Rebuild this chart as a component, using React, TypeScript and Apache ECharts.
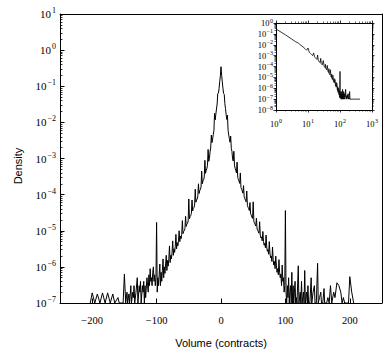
import React, { useEffect, useRef } from "react";
import * as echarts from "echarts";

// ---- main chart data: signed volume -> log10(density) ----
const coreStartVolume = -100; // core list covers every volume from -100 to 100
const coreLog10Density = [
  -4.77, -6.7, -6.3, -6.52, -6.22, -5.92, -6.52, -6.15, -6.4, -6.1,
  -5.78, -6.3, -6.0, -6.18, -5.92, -5.68, -6.1, -5.82, -5.98, -5.78,
  -5.42, -5.88, -5.68, -5.78, -5.6, -5.28, -5.68, -5.5, -5.6, -5.43,
  -5.1, -5.5, -5.33, -5.42, -5.28, -5.0, -5.3, -5.15, -5.22, -5.1,
  -4.72, -5.08, -5.02, -5.0, -4.94, -4.6, -4.88, -4.82, -4.8, -4.73,
  -4.12, -4.67, -4.61, -4.58, -4.52, -4.15, -4.45, -4.38, -4.36, -4.29,
  -3.85, -4.21, -4.15, -4.12, -4.05, -3.7, -3.97, -3.89, -3.86, -3.79,
  -3.35, -3.7, -3.62, -3.59, -3.51, -3.05, -3.41, -3.32, -3.28, -3.19,
  -2.75, -3.08, -3.0, -2.82, -2.71, -2.35, -2.56, -2.46, -2.34, -2.23,
  -1.75, -1.93, -1.77, -1.63, -1.49, -1.2, -1.19, -1.06, -0.87, -0.72,
  -0.46,
  -0.7, -0.88, -1.05, -1.2, -1.22, -1.48, -1.62, -1.78, -1.92, -1.8,
  -2.22, -2.35, -2.45, -2.55, -2.38, -2.72, -2.8, -3.01, -3.07, -2.8,
  -3.2, -3.27, -3.33, -3.4, -3.1, -3.52, -3.58, -3.63, -3.69, -3.4,
  -3.8, -3.85, -3.9, -3.96, -3.75, -4.06, -4.11, -4.16, -4.2, -3.9,
  -4.3, -4.35, -4.39, -4.44, -4.22, -4.53, -4.57, -4.62, -4.66, -4.2,
  -4.74, -4.79, -4.83, -4.87, -4.65, -4.95, -4.99, -5.03, -5.07, -4.75,
  -5.12, -5.2, -5.17, -5.28, -5.02, -5.3, -5.4, -5.35, -5.47, -5.12,
  -5.45, -5.57, -5.52, -5.65, -5.3, -5.62, -5.75, -5.7, -5.85, -5.45,
  -5.8, -5.95, -5.85, -6.05, -5.7, -5.95, -6.15, -6.05, -6.22, -5.8,
  -6.15, -6.3, -6.2, -6.52, -5.95, -6.4, -6.3, -6.7, -6.52, -4.44,
];

const leftTailVolume = [
  -203, -200, -196, -192, -188, -184, -180, -176, -172, -168, -165, -160, -158,
  -152, -150, -148, -146, -145, -143, -142, -140, -139, -137, -136, -135, -134,
  -132, -130, -129, -127, -126, -125, -124, -122, -121, -120, -119, -118, -117,
  -115, -114, -113, -112, -111, -110, -109, -108, -107, -106, -105, -104, -103,
  -102, -101,
];
const leftTailLog10Density = [
  -7, -6.72, -7, -6.75, -7, -6.72, -7, -6.72, -7, -6.75, -7, -6.85, -7,
  -7, -6.2, -7, -6.7, -7, -6.75, -7, -6.52, -7, -6.7, -6.85, -6.52, -7,
  -6.7, -6.3, -7, -6.52, -6.7, -6.4, -7, -6.52, -6.7, -6.4, -7, -6.52, -6.85,
  -6.3, -6.52, -6.7, -6.22, -6.52, -6.05, -6.4, -6.3, -6.52, -6.15, -6.0, -6.4, -6.22,
  -6.52, -6.3,
];

const rightTailVolume = [
  101, 102, 103, 104, 105, 106, 107, 108, 109, 110, 111, 112, 113, 114, 115, 116,
  117, 118, 120, 121, 123, 124, 125, 126, 128, 129, 130, 131, 133, 134, 135, 136,
  138, 140, 141, 143, 145, 146, 148, 150, 151, 153, 155, 156, 158, 160, 161, 164,
  166, 168, 170, 172, 175, 177, 180, 183, 186, 188, 190, 192, 195, 198, 200, 203,
  206,
];
const rightTailLog10Density = [
  -6.7, -7, -6.52, -6.85, -6.3, -7, -6.7, -6.52, -7, -6.15, -7, -6.52, -7, -6.7, -6.4, -7,
  -6.85, -7, -5.97, -7, -6.7, -7, -6.4, -7, -6.7, -7, -6.1, -7, -6.7, -7, -6.52, -7,
  -7, -6.3, -7, -6.7, -6.52, -7, -7, -5.9, -7, -6.85, -6.7, -7, -7, -6.6, -7, -7,
  -6.85, -7, -6.52, -7, -6.7, -6.85, -6.44, -6.52, -6.7, -7, -6.85, -7, -7, -7, -6.27, -6.7,
  -7,
];

// ---- inset data: |volume| (log-log) ----
const insetAbsVolume = [
  1, 2, 3, 4, 5, 6, 7, 8, 9, 10, 11, 12, 13, 14, 15, 16, 17, 18, 19, 20, 21, 22, 23,
  24, 25, 26, 28, 30, 32, 34, 35, 36, 38, 40, 42, 44, 45, 46, 48, 50, 52, 54, 55, 56,
  58, 60, 62, 64, 65, 66, 68, 70, 72, 74, 75, 76, 78, 80, 82, 84, 85, 86, 88, 90, 92,
  94, 95, 96, 98, 100, 102, 105, 108, 110, 112, 115, 118, 120, 123, 125, 128, 130,
  135, 138, 140, 145, 150, 155, 160, 165, 170, 175, 180, 185, 190, 195, 200, 205, 420,
];
const insetLog10Density = [
  -0.55, -1.1, -1.45, -1.7, -1.85, -2.05, -2.2, -2.35, -2.5, -2.3, -2.7, -2.8, -2.9,
  -3.0, -2.75, -3.1, -3.2, -3.28, -3.35, -2.95, -3.45, -3.5, -3.6,
  -3.65, -3.25, -3.75, -3.85, -3.45, -4.0, -4.1, -3.8, -4.2, -4.3, -3.9, -4.45, -4.55, -4.2, -4.65,
  -4.75, -4.3, -4.9, -5.0, -4.7, -5.1,
  -5.2, -4.8, -5.3, -5.4, -5.1, -5.5, -5.55, -5.2, -5.7, -5.8, -5.45, -5.9, -5.95, -5.55, -6.1,
  -6.2, -5.85, -6.3, -6.4, -6.0, -6.5,
  -6.6, -6.2, -6.7, -6.85, -4.45, -6.9, -6.4, -7.0, -6.3, -7.0, -6.6, -7.0, -6.1, -7.0, -6.5,
  -7.0, -6.3,
  -6.7, -7.0, -6.5, -6.8, -6.1, -7.0, -6.7, -7.0, -6.6, -6.9, -6.5, -7.0, -6.9, -7.0, -6.3, -7.0, -7.0,
];

const mainXTicks = [-200, -100, 0, 100, 200];

const SERIF = "'Liberation Serif', 'DejaVu Serif', serif";
const SANS = "'Liberation Sans', 'DejaVu Sans', Arial, sans-serif";

function powLabel(v: number) {
  const e = Math.round(Math.log10(v));
  const s = e < 0 ? "\u2212" + String(-e) : String(e);
  return `{b|10}{s|${s}}`;
}

function signedLabel(v: number) {
  return v < 0 ? "\u2212" + String(-v) : String(v);
}

export default function App() {
  const ref = useRef<HTMLDivElement>(null);

  useEffect(() => {
    if (!ref.current) return;
    const chart = echarts.init(ref.current, undefined, { renderer: "svg" });

    const mainData: number[][] = [];
    leftTailVolume.forEach((v, i) => mainData.push([v, Math.pow(10, leftTailLog10Density[i])]));
    coreLog10Density.forEach((l, i) => mainData.push([coreStartVolume + i, Math.pow(10, l)]));
    rightTailVolume.forEach((v, i) => mainData.push([v, Math.pow(10, rightTailLog10Density[i])]));

    const insetData = insetAbsVolume.map((v, i) => [v, Math.pow(10, insetLog10Density[i])]);

    const black = "#000";
    const line = { show: true, onZero: false, lineStyle: { color: black, width: 1 } };

    const mainRich = {
      b: { fontFamily: SERIF, fontSize: 11, color: black },
      s: { fontFamily: SERIF, fontSize: 8, color: black, padding: [0, 0, 7, 1] },
    };
    const insetRich = {
      b: { fontFamily: SERIF, fontSize: 8.5, color: black },
      s: { fontFamily: SERIF, fontSize: 6, color: black, padding: [0, 0, 5, 0.5] },
    };

    const mainY = (pos: "left" | "right", labels: boolean) => ({
      type: "log",
      gridIndex: 0,
      position: pos,
      logBase: 10,
      min: 1e-7,
      max: 10,
      axisLine: line,
      axisTick: { show: labels, inside: true, length: 4.5, lineStyle: { color: black, width: 1 } },
      minorTick: { show: labels, splitNumber: 9, length: 2.5, lineStyle: { color: black, width: 0.8 } },
      splitLine: { show: false },
      minorSplitLine: { show: false },
      axisLabel: labels
        ? { show: true, margin: 4, formatter: powLabel, rich: mainRich }
        : { show: false },
    });

    const insetY = (pos: "left" | "right", labels: boolean) => ({
      type: "log",
      gridIndex: 1,
      position: pos,
      logBase: 10,
      min: 1e-8,
      max: 1,
      axisLine: line,
      axisTick: { show: true, inside: false, length: 2.5, lineStyle: { color: black, width: 0.8 } },
      minorTick: { show: true, splitNumber: 9, length: 1.5, lineStyle: { color: black, width: 0.6 } },
      splitLine: { show: false },
      axisLabel: labels
        ? { show: true, margin: 3, formatter: powLabel, rich: insetRich }
        : { show: false },
    });

    const insetX = (pos: "bottom" | "top", labels: boolean) => ({
      type: "log",
      gridIndex: 1,
      position: pos,
      logBase: 10,
      min: 1,
      max: 1000,
      axisLine: line,
      axisTick: { show: true, inside: false, length: 2.5, lineStyle: { color: black, width: 0.8 } },
      minorTick: { show: true, splitNumber: 9, length: 1.5, lineStyle: { color: black, width: 0.6 } },
      splitLine: { show: false },
      axisLabel: labels
        ? { show: true, margin: 8, formatter: powLabel, rich: insetRich }
        : { show: false },
    });

    const mainX = (pos: "bottom" | "top", labels: boolean) => ({
      type: "value",
      gridIndex: 0,
      position: pos,
      min: -250,
      max: 250,
      axisLine: line,
      axisTick: {
        show: labels,
        inside: true,
        length: 4.5,
        customValues: mainXTicks,
        lineStyle: { color: black, width: 1 },
      },
      splitLine: { show: false },
      axisLabel: labels
        ? {
            show: true,
            margin: 12,
            customValues: mainXTicks,
            formatter: signedLabel,
            fontFamily: SERIF,
            fontSize: 10.5,
            color: black,
          }
        : { show: false },
    });

    chart.setOption({
      animation: false,
      backgroundColor: "#fff",
      grid: [
        { left: 60, right: 8, top: 14, bottom: 48, containLabel: false },
        { left: 276, right: 18, top: 23, bottom: 241, containLabel: false, show: true, backgroundColor: "#fff", borderWidth: 0 },
      ],
      xAxis: [mainX("bottom", true), mainX("top", false), insetX("bottom", true), insetX("top", false)],
      yAxis: [mainY("left", true), mainY("right", false), insetY("left", true), insetY("right", false)],
      series: [
        {
          type: "line",
          xAxisIndex: 0,
          yAxisIndex: 0,
          data: mainData,
          showSymbol: false,
          symbol: "none",
          clip: true,
          lineStyle: { color: black, width: 1 },
        },
        {
          type: "line",
          xAxisIndex: 2,
          yAxisIndex: 2,
          data: insetData,
          showSymbol: false,
          symbol: "none",
          clip: true,
          lineStyle: { color: black, width: 0.8 },
        },
      ],
      graphic: [
        {
          type: "text",
          x: 18,
          y: 166,
          rotation: Math.PI / 2,
          style: {
            text: "Density",
            fontFamily: SANS,
            fontSize: 11,
            fill: black,
            align: "center",
            verticalAlign: "middle",
          },
        },
        {
          type: "text",
          x: 221,
          y: 343,
          style: {
            text: "Volume (contracts)",
            fontFamily: SANS,
            fontSize: 11,
            fill: black,
            align: "center",
            verticalAlign: "middle",
          },
        },
      ],
    });

    return () => chart.dispose();
  }, []);

  return <div ref={ref} style={{ width: 390, height: 351, position: "absolute", left: 0, top: 0 }} />;
}
